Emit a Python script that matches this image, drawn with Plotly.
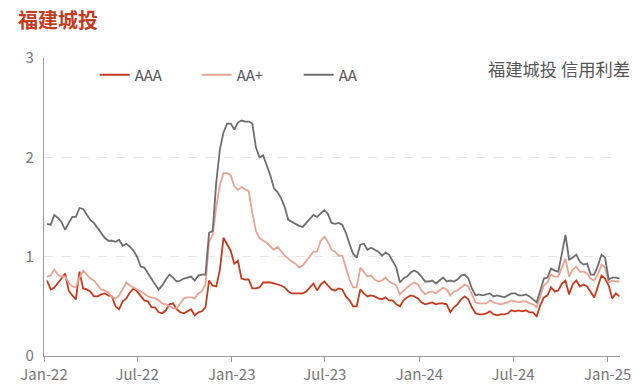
import pandas as pd
import plotly.graph_objects as go

dates = pd.date_range("2022-01-07", periods=160, freq="7D")

aaa = [0.76,0.67,0.69,0.73,0.78,0.83,0.66,0.61,0.57,0.85,
       0.68,0.67,0.65,0.60,0.60,0.62,0.63,0.61,0.60,0.50,
       0.47,0.55,0.58,0.64,0.68,0.65,0.60,0.56,0.55,0.49,
       0.49,0.44,0.43,0.46,0.52,0.53,0.47,0.44,0.43,0.45,
       0.47,0.41,0.44,0.45,0.49,0.76,0.71,0.70,0.87,1.19,
       1.13,1.06,0.93,0.96,0.78,0.77,0.77,0.68,0.68,0.69,
       0.74,0.74,0.74,0.73,0.72,0.71,0.69,0.65,0.63,0.63,
       0.63,0.63,0.65,0.69,0.73,0.66,0.72,0.75,0.71,0.67,
       0.66,0.68,0.67,0.60,0.56,0.50,0.50,0.67,0.63,0.60,
       0.61,0.60,0.58,0.57,0.59,0.56,0.56,0.52,0.50,0.56,
       0.59,0.61,0.60,0.58,0.54,0.52,0.53,0.54,0.52,0.53,
       0.53,0.52,0.44,0.49,0.52,0.57,0.60,0.57,0.49,0.43,
       0.42,0.42,0.43,0.45,0.42,0.41,0.42,0.42,0.43,0.46,
       0.45,0.46,0.45,0.46,0.44,0.44,0.40,0.51,0.59,0.61,
       0.69,0.65,0.66,0.73,0.76,0.62,0.72,0.76,0.70,0.72,
       0.70,0.64,0.59,0.70,0.81,0.78,0.71,0.58,0.63,0.60]

aa_plus = [0.80,0.81,0.87,0.82,0.80,0.80,0.74,0.70,0.69,0.79,
           0.86,0.82,0.78,0.76,0.71,0.67,0.66,0.64,0.59,0.58,
           0.61,0.68,0.74,0.71,0.69,0.67,0.65,0.63,0.60,0.59,
           0.58,0.56,0.53,0.52,0.50,0.48,0.48,0.53,0.58,0.59,
           0.59,0.58,0.63,0.65,0.72,1.15,1.22,1.50,1.72,1.84,
           1.84,1.82,1.71,1.67,1.70,1.68,1.66,1.44,1.26,1.19,
           1.16,1.14,1.10,1.07,1.10,1.05,1.01,0.98,0.95,0.93,
           0.89,0.91,0.96,1.01,1.05,1.05,1.16,1.20,1.15,1.07,
           1.05,1.01,1.01,0.89,0.77,0.69,0.69,0.89,0.84,0.80,
           0.81,0.77,0.75,0.76,0.79,0.75,0.73,0.71,0.62,0.66,
           0.69,0.72,0.74,0.72,0.66,0.62,0.64,0.65,0.63,0.66,
           0.69,0.67,0.61,0.65,0.66,0.69,0.72,0.70,0.61,0.54,
           0.53,0.53,0.53,0.56,0.54,0.53,0.52,0.53,0.54,0.56,
           0.55,0.54,0.55,0.55,0.53,0.52,0.49,0.61,0.71,0.74,
           0.82,0.80,0.80,0.89,0.98,0.80,0.87,0.90,0.85,0.85,
           0.83,0.78,0.76,0.82,0.92,0.89,0.74,0.76,0.75,0.75]

aa = [1.33,1.32,1.42,1.39,1.35,1.27,1.34,1.40,1.40,1.49,
      1.48,1.42,1.37,1.34,1.29,1.25,1.19,1.16,1.16,1.15,
      1.17,1.11,1.13,1.10,1.06,1.00,0.90,0.89,0.83,0.78,
      0.72,0.67,0.71,0.77,0.82,0.79,0.75,0.76,0.78,0.79,
      0.80,0.76,0.81,0.82,0.82,1.24,1.26,1.75,2.08,2.25,
      2.34,2.34,2.28,2.35,2.37,2.36,2.36,2.34,2.10,2.00,
      2.02,1.92,1.82,1.69,1.65,1.59,1.50,1.37,1.35,1.33,
      1.31,1.30,1.34,1.38,1.42,1.40,1.44,1.47,1.43,1.34,
      1.33,1.34,1.32,1.24,1.13,1.03,0.99,1.12,1.13,1.07,
      1.09,1.07,1.05,1.01,1.04,1.02,0.96,0.89,0.74,0.78,
      0.80,0.84,0.86,0.84,0.80,0.75,0.75,0.76,0.73,0.76,
      0.79,0.75,0.76,0.75,0.77,0.81,0.82,0.78,0.68,0.61,
      0.62,0.61,0.62,0.63,0.60,0.61,0.60,0.59,0.61,0.63,
      0.63,0.61,0.61,0.62,0.60,0.57,0.54,0.66,0.78,0.79,
      0.88,0.86,0.85,1.03,1.22,0.97,0.99,1.02,0.95,0.92,
      0.93,0.82,0.82,0.91,1.02,0.99,0.77,0.79,0.79,0.78]

tick_dates = ["2022-01-01", "2022-07-01", "2023-01-01", "2023-07-01",
              "2024-01-01", "2024-07-01", "2025-01-01"]
tick_text = ["Jan-22", "Jul-22", "Jan-23", "Jul-23", "Jan-24", "Jul-24", "Jan-25"]

FONT = "Noto Sans CJK SC"
fig = go.Figure()
fig.add_trace(go.Scatter(x=dates, y=aaa, name="AAA", mode="lines",
                         line=dict(color="#C63A1E", width=1.8)))
fig.add_trace(go.Scatter(x=dates, y=aa_plus, name="AA+", mode="lines",
                         line=dict(color="#EBA393", width=1.8)))
fig.add_trace(go.Scatter(x=dates, y=aa, name="AA", mode="lines",
                         line=dict(color="#6E6E6E", width=1.8)))

fig.update_layout(
    width=640, height=390,
    margin=dict(l=44, r=20, t=58, b=34, autoexpand=False),
    paper_bgcolor="white", plot_bgcolor="white",
    font=dict(family=FONT, color="#777777", size=15),
    showlegend=True,
    legend=dict(orientation="h", x=0.088, y=0.943, xanchor="left", yanchor="middle",
                font=dict(size=15, color="#555555"), entrywidth=57,
                bgcolor="rgba(0,0,0,0)"),
)
fig.update_xaxes(range=["2022-01-01", "2025-01-25"], tickvals=tick_dates, ticktext=tick_text,
                 showgrid=False, showline=True, linecolor="#999999", linewidth=1.2,
                 ticks="outside", ticklen=5, tickcolor="#999999", automargin=False,
                 tickfont=dict(size=15, color="#777777"), zeroline=False)
fig.update_yaxes(range=[0, 3], dtick=1, showgrid=True, gridcolor="#E6E6E6",
                 griddash="dash", showline=True, linecolor="#999999", linewidth=1.2,
                 ticks="", automargin=False, ticklabelstandoff=6,
                 tickfont=dict(size=15, color="#777777"), zeroline=False)
fig.add_annotation(text="<b>福建城投</b>", xref="paper", yref="paper", x=-0.049, y=1.128,
                   xanchor="left", yanchor="middle", showarrow=False,
                   font=dict(size=20, color="#C63A1E", family=FONT))
fig.add_annotation(text="福建城投 信用利差", xref="paper", yref="paper", x=1.021, y=0.965,
                   xanchor="right", yanchor="middle", showarrow=False,
                   font=dict(size=17.3, color="#555555", family=FONT))
fig.write_html("out.html", config={"displayModeBar": False},
               post_script="document.body.style.margin='0';")
